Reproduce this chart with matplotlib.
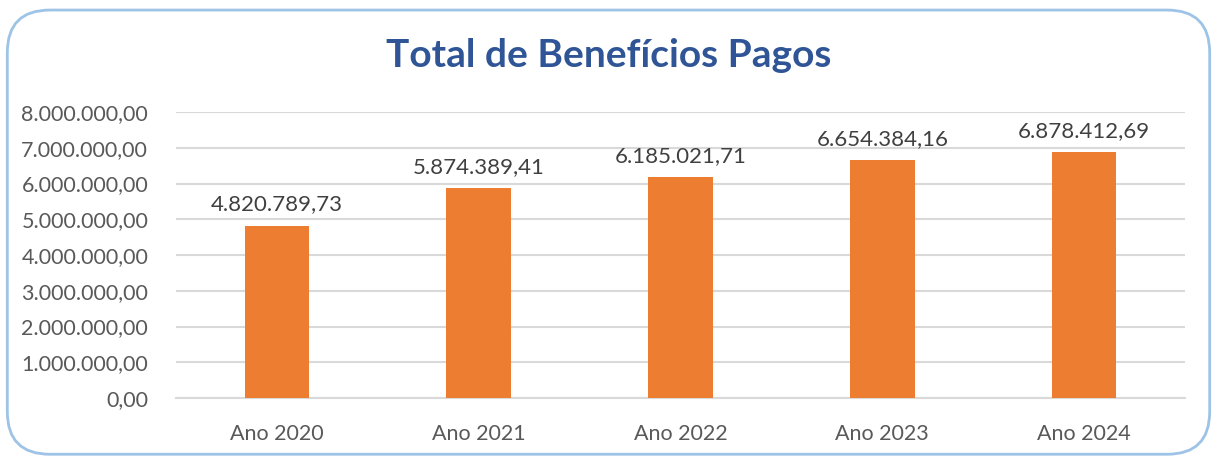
import matplotlib.pyplot as plt
from matplotlib.patches import FancyBboxPatch
from matplotlib.ticker import FuncFormatter

# dados
anos = ["Ano 2020", "Ano 2021", "Ano 2022", "Ano 2023", "Ano 2024"]
valores = [4820789.73, 5874389.41, 6185021.71, 6654384.16, 6878412.69]
yticks = [0, 1e6, 2e6, 3e6, 4e6, 5e6, 6e6, 7e6, 8e6]


def br(v):
    # formato brasileiro: 1.234.567,89
    s = f"{v:,.2f}"
    return s.replace(",", "X").replace(".", ",").replace("X", ".")


plt.rcParams['font.family'] = ['Lato', 'DejaVu Sans']

fig = plt.figure(figsize=(12.17, 4.57), dpi=100)
ax = fig.add_axes([0.1446, 0.1291, 0.8291, 0.6258])

# moldura arredondada
frame = FancyBboxPatch((0.006, 0.006), 0.988, 0.972,
                       boxstyle="round,pad=0,rounding_size=0.035",
                       transform=fig.transFigure, facecolor="white",
                       edgecolor="#9DC3E6", linewidth=2, zorder=-10,
                       mutation_aspect=1217 / 457)
fig.patches.append(frame)

x = range(len(anos))
ax.bar(x, valores, width=0.32, color="#ED7D31", zorder=3)

for i, v in enumerate(valores):
    ax.annotate(br(v), (i, v), xytext=(0, 8), textcoords="offset points",
                ha="center", va="bottom", fontsize=16, color="#404040")

ax.set_xlim(-0.5, len(anos) - 0.5)
ax.set_ylim(0, 8e6)
ax.set_yticks(yticks)
ax.yaxis.set_major_formatter(FuncFormatter(lambda v, p: br(v)))
ax.set_xticks(list(x))
ax.set_xticklabels(anos)
ax.tick_params(axis="both", length=0, labelsize=15.5, labelcolor="#595959")
ax.tick_params(axis="y", pad=20)
ax.tick_params(axis="x", pad=19)
ax.grid(axis="y", color="#D9D9D9", linewidth=1.5, zorder=0)
for s in ["top", "right", "left"]:
    ax.spines[s].set_visible(False)
ax.spines["bottom"].set_color("#D9D9D9")
ax.spines["bottom"].set_linewidth(1.5)
ax.set_facecolor("none")

fig.text(0.5, 0.878, "Total de Benefícios Pagos", ha="center", va="center",
         fontsize=28, fontweight="bold", color="#2F5597")

fig.savefig("out.png", dpi=100, facecolor="white")
